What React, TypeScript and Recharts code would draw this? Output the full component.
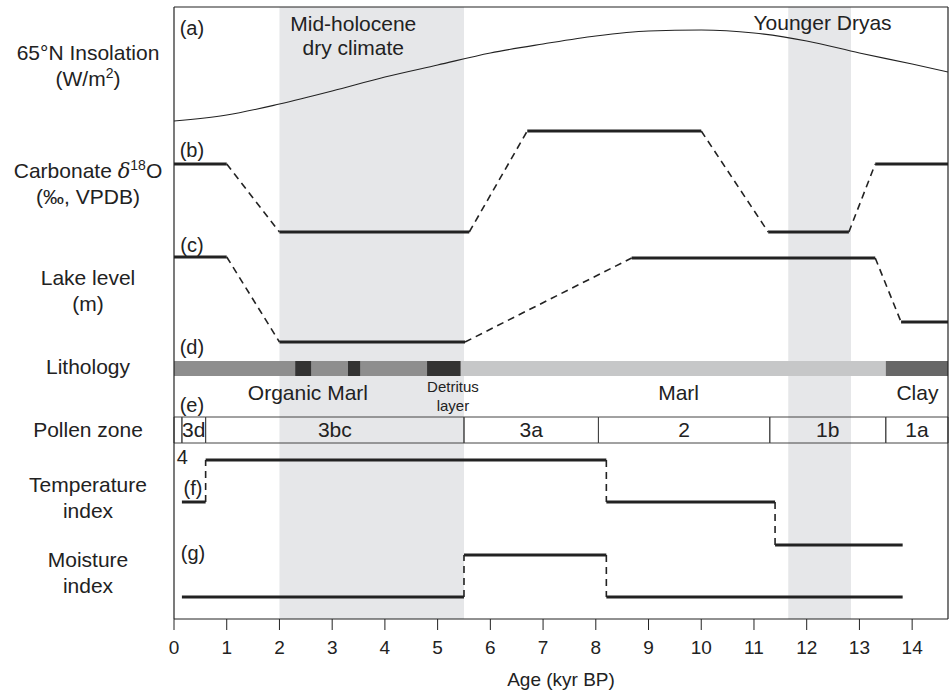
import React from "react"
import { ComposedChart, Line, XAxis, YAxis, ReferenceArea, ReferenceLine, ReferenceDot } from "recharts"

// vertical axis: schematic row position, measured downward from the top of the frame
const ageTicks = [0, 1, 2, 3, 4, 5, 6, 7, 8, 9, 10, 11, 12, 13, 14]
const ageMax = 14.68

// (a) 65°N insolation curve
const insolation = [
  { age: 0, y: 114 }, { age: 1, y: 108 }, { age: 2, y: 97 }, { age: 3, y: 84 },
  { age: 4, y: 70 }, { age: 5, y: 58 }, { age: 6, y: 46 }, { age: 7, y: 37 },
  { age: 8, y: 29 }, { age: 9, y: 24 }, { age: 10, y: 23 }, { age: 11, y: 26 },
  { age: 12, y: 34 }, { age: 13, y: 46 }, { age: 14, y: 57 }, { age: 14.68, y: 65 },
]

// breakpoints; segments alternate solid / dashed
const d18O = [[0, 157], [1, 157], [2, 225], [5.6, 225], [6.7, 124], [10, 124], [11.27, 225], [12.8, 225], [13.3, 157], [14.68, 157]]
const lakeLevel = [[0, 250], [1, 250], [2, 335], [5.52, 335], [8.68, 251], [13.3, 251], [13.79, 315], [14.68, 315]]
const temperature = [[0.15, 495], [0.6, 495], [0.6, 453], [8.2, 453], [8.2, 495], [11.4, 495], [11.4, 538], [13.82, 538]]
const moisture = [[0.15, 590], [5.5, 590], [5.5, 548], [8.2, 548], [8.2, 590], [13.82, 590]]

const bands = [[2, 5.5], [11.65, 12.84]]

const lithology = [[0, 5.45, "#8e8e8e"], [5.45, 13.5, "#c6c7c8"], [13.5, ageMax, "#676767"]]
const detritus = [[2.3, 2.6], [3.3, 3.53], [4.8, 5.43]]

const pollenEdges = [0, 0.15, 0.6, 5.5, 8.05, 11.3, 13.5, ageMax]
const pollenNames = ["", "3d", "3bc", "3a", "2", "1b", "1a"]

const notes: [number, number, string, number][] = [
  [0.34, 21, "(a)", 20], [0.34, 143, "(b)", 20], [0.34, 238, "(c)", 20], [0.34, 340, "(d)", 20],
  [0.34, 398, "(e)", 20], [0.16, 450, "4", 20], [0.36, 481, "(f)", 20], [0.36, 546, "(g)", 20],
  [3.4, 17, "Mid-holocene", 21], [3.4, 41, "dry climate", 21], [12.3, 16, "Younger Dryas", 21],
  [2.54, 386, "Organic Marl", 21], [5.29, 380, "Detritus", 15], [5.29, 399, "layer", 15],
  [9.57, 386, "Marl", 21], [14.1, 386, "Clay", 21],
]

const rowPos = [46, 164, 271, 360, 423, 478, 553]
const rowText: [string, string][][] = [
  [[["65°N Insolation", ""]], [["(W/m", ""], ["2", "sup"], [")", ""]]],
  [[["Carbonate ", ""], ["δ", "it"], ["18", "sup"], ["O", ""]], [["(‰, VPDB)", ""]]],
  [[["Lake level", ""]], [["(m)", ""]]],
  [[["Lithology", ""]]],
  [[["Pollen zone", ""]]],
  [[["Temperature", ""]], [["index", ""]]],
  [[["Moisture", ""]], [["index", ""]]],
] as any

const ink = "#222"

const RowLabel = (props: any) => {
  const i = rowPos.indexOf(props.payload.value)
  if (i < 0) return null
  const lines = rowText[i] as any
  return (
    <text textAnchor="middle" fontSize={21} fill={ink}>
      {lines.map((parts: [string, string][], k: number) => (
        <tspan key={k} x={88} y={props.y + 7 + k * 26}>
          {parts.map(([t, s], j) =>
            s === "sup" ? <tspan key={j} dy={-8} fontSize={14}>{t}</tspan>
            : s === "it" ? <tspan key={j} dy={0} fontStyle="italic" fontFamily="DejaVu Serif">{t}</tspan>
            : <tspan key={j} dy={j > 0 && parts[j - 1][1] === "sup" ? 8 : 0}>{t}</tspan>
          )}
        </tspan>
      ))}
    </text>
  )
}

const segments = (pts: number[][], name: string) =>
  pts.slice(1).map((p, i) => {
    const solid = i % 2 === 0
    return <Line key={name + i} data={[{ age: pts[i][0], y: pts[i][1] }, { age: p[0], y: p[1] }]} dataKey="y"
      stroke={ink} strokeWidth={solid ? 3 : 1.6} strokeDasharray={solid ? undefined : "7 5"}
      dot={false} activeDot={false} isAnimationActive={false} />
  })

const App = () => {
  return <div style={{ position: "absolute", left: 0, top: 0, fontFamily: "'Liberation Sans', Arial, sans-serif" }}>
    <ComposedChart width={952} height={697} margin={{ top: 7, right: 4, left: 0, bottom: 8 }}>
      <XAxis type="number" dataKey="age" domain={[0, ageMax]} ticks={ageTicks} allowDataOverflow
        height={70} tickSize={11} tickMargin={11} interval={0}
        tick={{ fontSize: 19, fill: ink }} stroke={ink}
        label={{ value: "Age (kyr BP)", position: "insideBottom", offset: 3, fontSize: 19, fill: ink }} />
      <YAxis type="number" reversed domain={[0, 612]} width={174} ticks={rowPos} interval={0}
        axisLine={false} tickLine={false} tick={RowLabel} />

      {bands.map(([a, b], i) => (
        <ReferenceArea key={"band" + i} x1={a} x2={b} y1={0} y2={612} fill="#e6e7e9" fillOpacity={1} stroke="none" />
      ))}
      {lithology.map(([a, b, c], i) => (
        <ReferenceArea key={"lith" + i} x1={a as number} x2={b as number} y1={354} y2={369} fill={c as string} fillOpacity={1} stroke="none" />
      ))}
      {detritus.map(([a, b], i) => (
        <ReferenceArea key={"det" + i} x1={a} x2={b} y1={354} y2={369} fill="#333" fillOpacity={1} stroke="none" />
      ))}
      {pollenNames.map((n, i) => (
        <ReferenceArea key={"pz" + i} x1={pollenEdges[i]} x2={pollenEdges[i + 1]} y1={410} y2={436}
          fill="none" stroke="#444" strokeWidth={1}
          label={{ value: n, position: "center", fontSize: 21, fill: ink }} />
      ))}

      <ReferenceLine x={0} stroke={ink} strokeWidth={1.2} />
      <ReferenceLine x={ageMax} stroke={ink} strokeWidth={1.2} />
      <ReferenceLine y={0} stroke={ink} strokeWidth={1.2} />

      <Line data={insolation} dataKey="y" type="monotone" stroke={ink} strokeWidth={1.1}
        dot={false} activeDot={false} isAnimationActive={false} />
      {segments(d18O, "d")}
      {segments(lakeLevel, "l")}
      {segments(temperature, "t")}
      {segments(moisture, "m")}

      {notes.map(([a, y, t, fs], i) => (
        <ReferenceDot key={"n" + i} x={a} y={y} r={0} fill="none" stroke="none"
          label={{ value: t, position: "center", fontSize: fs, fill: ink }} />
      ))}
    </ComposedChart>
  </div>
}

export default App
